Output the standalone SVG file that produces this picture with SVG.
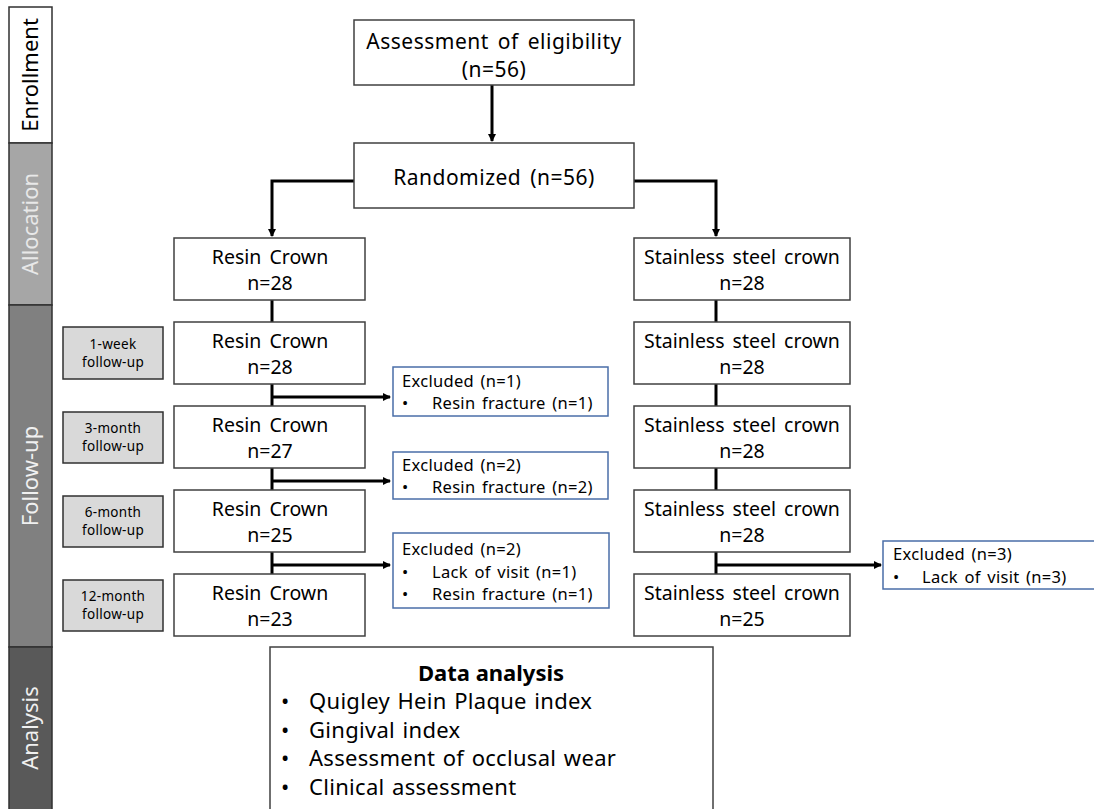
<svg xmlns="http://www.w3.org/2000/svg" width="1094" height="809" viewBox="0 0 1094 809">
<defs>
<style>
text{font-family:"Noto Sans","Open Sans","Liberation Sans",sans-serif;fill:#000}
.box{fill:#fff;stroke:#404040;stroke-width:1.5}
.ex{fill:#fff;stroke:#4a6ea8;stroke-width:1.5}
.lab{fill:#d9d9d9;stroke:#303030;stroke-width:1.5}
.m{font-size:21px;text-anchor:middle;letter-spacing:0.5px;word-spacing:3px}
.c{font-size:19.5px;text-anchor:middle;word-spacing:3px}
.s{font-size:16.5px;letter-spacing:0.3px;word-spacing:2px}
.g{font-size:13.5px;text-anchor:middle;letter-spacing:0.3px}
.side{font-size:22px;text-anchor:middle}
.ln{stroke:#000;stroke-width:3;fill:none}
</style>
<marker id="ah" markerWidth="8" markerHeight="8" refX="7" refY="4" orient="auto" markerUnits="userSpaceOnUse"><path d="M0,0 L8,4 L0,8 Z" fill="#000"/></marker>
</defs>
<rect width="1094" height="809" fill="#fff"/>
<g id="sidebar">
<rect x="9" y="7" width="43" height="136" fill="#fff" stroke="#303030" stroke-width="1.5"/>
<rect x="9" y="143" width="43" height="162" fill="#a6a6a6" stroke="#303030" stroke-width="1.5"/>
<rect x="9" y="305" width="43" height="342" fill="#808080" stroke="#303030" stroke-width="1.5"/>
<rect x="9" y="647" width="43" height="165" fill="#595959" stroke="#303030" stroke-width="1.5"/>
<text class="side" transform="translate(38,75) rotate(-90)">Enrollment</text>
<text class="side" transform="translate(38,224) rotate(-90)" style="fill:#e8e8e8">Allocation</text>
<text class="side" transform="translate(38,476) rotate(-90)" style="fill:#f0f0f0">Follow-up</text>
<text class="side" transform="translate(38,728) rotate(-90)" style="fill:#f0f0f0">Analysis</text>
</g>
<g id="connectors">
<line class="ln" x1="492" y1="85" x2="492" y2="141" marker-end="url(#ah)"/>
<polyline class="ln" points="354,181 272,181 272,236" marker-end="url(#ah)"/>
<polyline class="ln" points="634,181 716,181 716,236" marker-end="url(#ah)"/>
<line class="ln" x1="272" y1="300" x2="272" y2="322"/>
<line class="ln" x1="272" y1="384" x2="272" y2="406"/>
<line class="ln" x1="272" y1="468" x2="272" y2="490"/>
<line class="ln" x1="272" y1="552" x2="272" y2="574"/>
<line class="ln" x1="716" y1="300" x2="716" y2="322"/>
<line class="ln" x1="716" y1="384" x2="716" y2="406"/>
<line class="ln" x1="716" y1="468" x2="716" y2="490"/>
<line class="ln" x1="716" y1="552" x2="716" y2="574"/>
<line class="ln" x1="272" y1="397" x2="390" y2="397" marker-end="url(#ah)"/>
<line class="ln" x1="272" y1="481" x2="390" y2="481" marker-end="url(#ah)"/>
<line class="ln" x1="272" y1="565" x2="390" y2="565" marker-end="url(#ah)"/>
<line class="ln" x1="716" y1="565" x2="881" y2="565" marker-end="url(#ah)"/>
</g>
<g id="eligibility"><rect class="box" x="354" y="20" width="280" height="65"/><text class="m" x="494" y="49">Assessment of eligibility</text><text class="m" x="494" y="77">(n=56)</text></g>
<g id="randomized"><rect class="box" x="354" y="143" width="280" height="65"/><text class="m" x="494" y="185">Randomized (n=56)</text></g>
<g id="resin0"><rect class="box" x="174" y="238" width="191" height="62"/><text class="c" x="270" y="264">Resin Crown</text><text class="c" x="270" y="290">n=28</text></g>
<g id="ssc0"><rect class="box" x="634" y="238" width="216" height="62"/><text class="c" x="742" y="264">Stainless steel crown</text><text class="c" x="742" y="290">n=28</text></g>
<g id="lab1"><rect class="lab" x="63" y="327" width="100" height="52"/><text class="g" x="113" y="349">1-week</text><text class="g" x="113" y="367">follow-up</text></g>
<g id="lab2"><rect class="lab" x="63" y="412" width="100" height="51"/><text class="g" x="113" y="433">3-month</text><text class="g" x="113" y="451">follow-up</text></g>
<g id="lab3"><rect class="lab" x="63" y="496" width="100" height="51"/><text class="g" x="113" y="517">6-month</text><text class="g" x="113" y="535">follow-up</text></g>
<g id="lab4"><rect class="lab" x="63" y="580" width="100" height="51"/><text class="g" x="113" y="601">12-month</text><text class="g" x="113" y="619">follow-up</text></g>
<g id="resin1"><rect class="box" x="174" y="322" width="191" height="62"/><text class="c" x="270" y="348">Resin Crown</text><text class="c" x="270" y="374">n=28</text></g>
<g id="resin2"><rect class="box" x="174" y="406" width="191" height="62"/><text class="c" x="270" y="432">Resin Crown</text><text class="c" x="270" y="458">n=27</text></g>
<g id="resin3"><rect class="box" x="174" y="490" width="191" height="62"/><text class="c" x="270" y="516">Resin Crown</text><text class="c" x="270" y="542">n=25</text></g>
<g id="resin4"><rect class="box" x="174" y="574" width="191" height="62"/><text class="c" x="270" y="600">Resin Crown</text><text class="c" x="270" y="626">n=23</text></g>
<g id="ssc1"><rect class="box" x="634" y="322" width="216" height="62"/><text class="c" x="742" y="348">Stainless steel crown</text><text class="c" x="742" y="374">n=28</text></g>
<g id="ssc2"><rect class="box" x="634" y="406" width="216" height="62"/><text class="c" x="742" y="432">Stainless steel crown</text><text class="c" x="742" y="458">n=28</text></g>
<g id="ssc3"><rect class="box" x="634" y="490" width="216" height="62"/><text class="c" x="742" y="516">Stainless steel crown</text><text class="c" x="742" y="542">n=28</text></g>
<g id="ssc4"><rect class="box" x="634" y="574" width="216" height="62"/><text class="c" x="742" y="600">Stainless steel crown</text><text class="c" x="742" y="626">n=25</text></g>
<g id="ex1"><rect class="ex" x="393" y="367" width="215" height="49"/><text class="s" x="402" y="387">Excluded (n=1)</text><text class="s" x="402" y="409">•</text><text class="s" x="432" y="409">Resin fracture (n=1)</text></g>
<g id="ex2"><rect class="ex" x="393" y="452" width="215" height="47"/><text class="s" x="402" y="471">Excluded (n=2)</text><text class="s" x="402" y="493">•</text><text class="s" x="432" y="493">Resin fracture (n=2)</text></g>
<g id="ex3"><rect class="ex" x="393" y="533" width="216" height="75"/><text class="s" x="402" y="555">Excluded (n=2)</text><text class="s" x="402" y="578">•</text><text class="s" x="432" y="578">Lack of visit (n=1)</text><text class="s" x="402" y="600">•</text><text class="s" x="432" y="600">Resin fracture (n=1)</text></g>
<g id="ex4"><rect class="ex" x="883" y="541" width="216" height="48"/><text class="s" x="893" y="560">Excluded (n=3)</text><text class="s" x="893" y="583">•</text><text class="s" x="922" y="583">Lack of visit (n=3)</text></g>
<g id="analysis"><rect class="box" x="270" y="647" width="443" height="170"/>
<text x="491" y="681" style="font-size:22px;font-weight:bold;text-anchor:middle">Data analysis</text>
<g style="font-size:22px;letter-spacing:0.3px;word-spacing:1.5px">
<text x="281" y="709">•</text><text x="309" y="709">Quigley Hein Plaque index</text>
<text x="281" y="738">•</text><text x="309" y="738">Gingival index</text>
<text x="281" y="766">•</text><text x="309" y="766">Assessment of occlusal wear</text>
<text x="281" y="795">•</text><text x="309" y="795">Clinical assessment</text>
</g></g>
</svg>
